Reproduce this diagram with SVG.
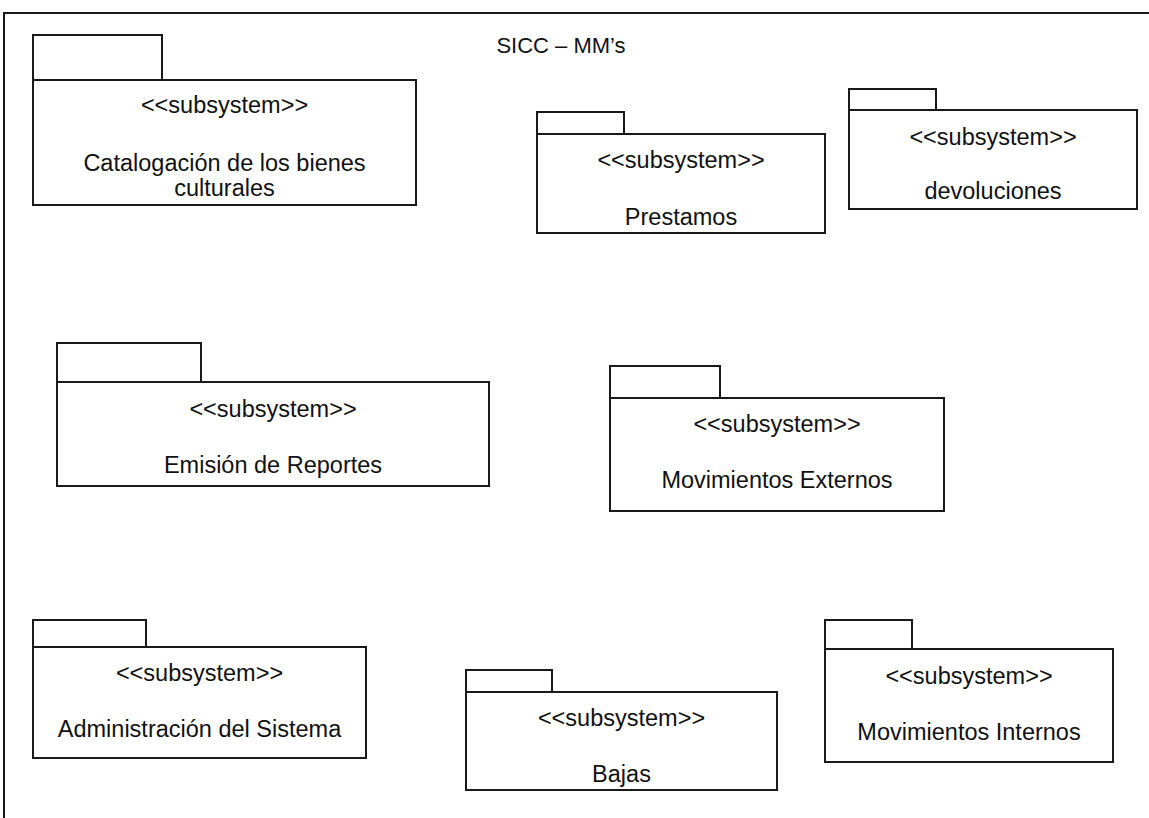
<svg xmlns="http://www.w3.org/2000/svg" width="1149" height="818" viewBox="0 0 1149 818">
  <style>
    .frame { fill: none; stroke: #1a1a1a; stroke-width: 2; }
    .pkg rect { fill: #ffffff; stroke: #1a1a1a; stroke-width: 2; }
    text { font-family: "Liberation Sans", Arial, sans-serif; font-size: 23.5px; fill: #111111; text-anchor: middle; }
    .title { font-size: 22px; }
  </style>
  <rect width="1149" height="818" fill="#ffffff"/>

  <!-- outer frame: only top and left edges fall inside the canvas -->
  <path class="frame" d="M4,818 V13 H1149"/>
  <text class="title" x="561" y="53">SICC – MM’s</text>

  <g id="pkg-catalogacion" class="pkg">
    <rect x="33" y="35" width="129" height="45"/>
    <rect x="33" y="80" width="383" height="125"/>
    <text x="224.5" y="113">&lt;&lt;subsystem&gt;&gt;</text>
    <text x="224.5" y="171">Catalogación de los bienes</text>
    <text x="224.5" y="196">culturales</text>
  </g>

  <g id="pkg-prestamos" class="pkg">
    <rect x="537" y="112" width="87" height="22"/>
    <rect x="537" y="134" width="288" height="99"/>
    <text x="681" y="168">&lt;&lt;subsystem&gt;&gt;</text>
    <text x="681" y="225">Prestamos</text>
  </g>

  <g id="pkg-devoluciones" class="pkg">
    <rect x="849" y="89" width="87" height="21"/>
    <rect x="849" y="110" width="288" height="99"/>
    <text x="993" y="145">&lt;&lt;subsystem&gt;&gt;</text>
    <text x="993" y="199">devoluciones</text>
  </g>

  <g id="pkg-emision" class="pkg">
    <rect x="57" y="343" width="144" height="39"/>
    <rect x="57" y="382" width="432" height="104"/>
    <text x="273" y="417">&lt;&lt;subsystem&gt;&gt;</text>
    <text x="273" y="473">Emisión de Reportes</text>
  </g>

  <g id="pkg-mov-externos" class="pkg">
    <rect x="610" y="366" width="110" height="32"/>
    <rect x="610" y="398" width="334" height="113"/>
    <text x="777" y="432">&lt;&lt;subsystem&gt;&gt;</text>
    <text x="777" y="488">Movimientos Externos</text>
  </g>

  <g id="pkg-administracion" class="pkg">
    <rect x="33" y="620" width="113" height="27"/>
    <rect x="33" y="647" width="333" height="111"/>
    <text x="199.5" y="681">&lt;&lt;subsystem&gt;&gt;</text>
    <text x="199.5" y="737">Administración del Sistema</text>
  </g>

  <g id="pkg-bajas" class="pkg">
    <rect x="466" y="670" width="86" height="22"/>
    <rect x="466" y="692" width="311" height="98"/>
    <text x="621.5" y="726">&lt;&lt;subsystem&gt;&gt;</text>
    <text x="621.5" y="782">Bajas</text>
  </g>

  <g id="pkg-mov-internos" class="pkg">
    <rect x="825" y="620" width="87" height="29"/>
    <rect x="825" y="649" width="288" height="113"/>
    <text x="969" y="684">&lt;&lt;subsystem&gt;&gt;</text>
    <text x="969" y="740">Movimientos Internos</text>
  </g>

  <!-- no connectors between the packages -->
  <g id="connectors"/>
</svg>
